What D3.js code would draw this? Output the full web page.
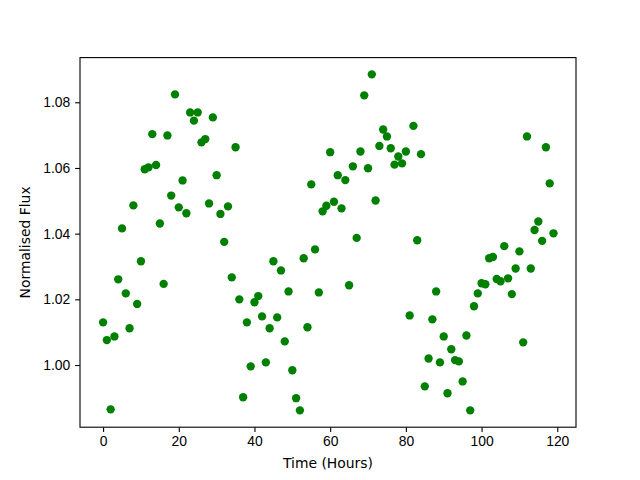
<!DOCTYPE html>
<html>
<head>
<meta charset="utf-8">
<script src="https://cdn.jsdelivr.net/npm/d3@7"></script>
<style>
  body { margin: 0; background: #fff; }
  svg { font-family: "DejaVu Sans", sans-serif; }
  .tick text { font-size: 13.9px; fill: #000; }
  .domain { display: none; }
</style>
</head>
<body>
<svg id="chart" width="640" height="480"></svg>
<script>
// time in hours, one reading per hour
var hours = d3.range(0, 120);

// normalised flux
var flux = [
  1.0130, 1.0076, 0.9865, 1.0087, 1.0261, 1.0416, 1.0218, 1.0112, 1.0486, 1.0186,
  1.0316, 1.0596, 1.0602, 1.0703, 1.0609, 1.0431, 1.0247, 1.0699, 1.0516, 1.0824,
  1.0480, 1.0562, 1.0462, 1.0769, 1.0744, 1.0769, 1.0678, 1.0688, 1.0492, 1.0754,
  1.0578, 1.0460, 1.0375, 1.0483, 1.0267, 1.0663, 1.0200, 0.9902, 1.0130, 0.9996,
  1.0191, 1.0210, 1.0148, 1.0008, 1.0112, 1.0316, 1.0145, 1.0288, 1.0072, 1.0224,
  0.9984, 0.9899, 0.9862, 1.0325, 1.0115, 1.0550, 1.0352, 1.0221, 1.0468, 1.0485,
  1.0648, 1.0497, 1.0578, 1.0477, 1.0563, 1.0243, 1.0605, 1.0387, 1.0650, 1.0821,
  1.0599, 1.0885, 1.0501, 1.0667, 1.0717, 1.0696, 1.0660, 1.0610, 1.0635, 1.0614,
  1.0650, 1.0151, 1.0728, 1.0380, 1.0642, 0.9935, 1.0020, 1.0139, 1.0224, 1.0008,
  1.0087, 0.9914, 1.0048, 1.0015, 1.0011, 0.9950, 1.0090, 0.9862, 1.0179, 1.0218,
  1.0249, 1.0246, 1.0325, 1.0329, 1.0262, 1.0255, 1.0362, 1.0264, 1.0216, 1.0294,
  1.0346, 1.0069, 1.0696, 1.0294, 1.0411, 1.0437, 1.0378, 1.0663, 1.0553, 1.0401
];

var xTicks = [0, 20, 40, 60, 80, 100, 120];
var yTicks = [1.00, 1.02, 1.04, 1.06, 1.08];

var points = hours.map((h, i) => ({ t: h, f: flux[i] }));

var margin = {top: 57.6, right: 64, bottom: 52.8, left: 80};
var width = 640 - margin.left - margin.right;
var height = 480 - margin.top - margin.bottom;

var svg = d3.select("#chart");
var g = svg.append("g")
  .attr("transform", "translate(" + margin.left + "," + margin.top + ")");

var xScale = d3.scaleLinear()
  .domain([-6.1, 124.95])
  .range([0, width]);

var yScale = d3.scaleLinear()
  .domain([0.98107, 1.0936])
  .range([height, 0]);

var tickLen = 4.86;

var gX = g.append("g")
  .attr("transform", "translate(0," + height + ")")
  .call(d3.axisBottom(xScale).tickValues(xTicks).tickSize(tickLen).tickPadding(4.2).tickFormat(d3.format("d")));

var gY = g.append("g")
  .call(d3.axisLeft(yScale).tickValues(yTicks).tickSize(tickLen).tickPadding(4.86).tickFormat(d3.format(".2f")));

g.selectAll(".tick line").attr("stroke", "#000").attr("stroke-width", 1.1);

// scatter
g.append("g")
  .selectAll("circle")
  .data(points)
  .join("circle")
    .attr("cx", d => xScale(d.t))
    .attr("cy", d => yScale(d.f))
    .attr("r", 4.17)
    .attr("fill", "#008000");

// frame
g.append("rect")
  .attr("width", width)
  .attr("height", height)
  .attr("fill", "none")
  .attr("stroke", "#000")
  .attr("stroke-width", 1.1);

svg.append("text")
  .attr("x", margin.left + width / 2)
  .attr("y", 467.5)
  .attr("text-anchor", "middle")
  .attr("font-size", "13.9px")
  .text("Time (Hours)");

svg.append("text")
  .attr("transform", "translate(30," + (margin.top + height / 2) + ") rotate(-90)")
  .attr("text-anchor", "middle")
  .attr("font-size", "13.9px")
  .text("Normalised Flux");
</script>
</body>
</html>
